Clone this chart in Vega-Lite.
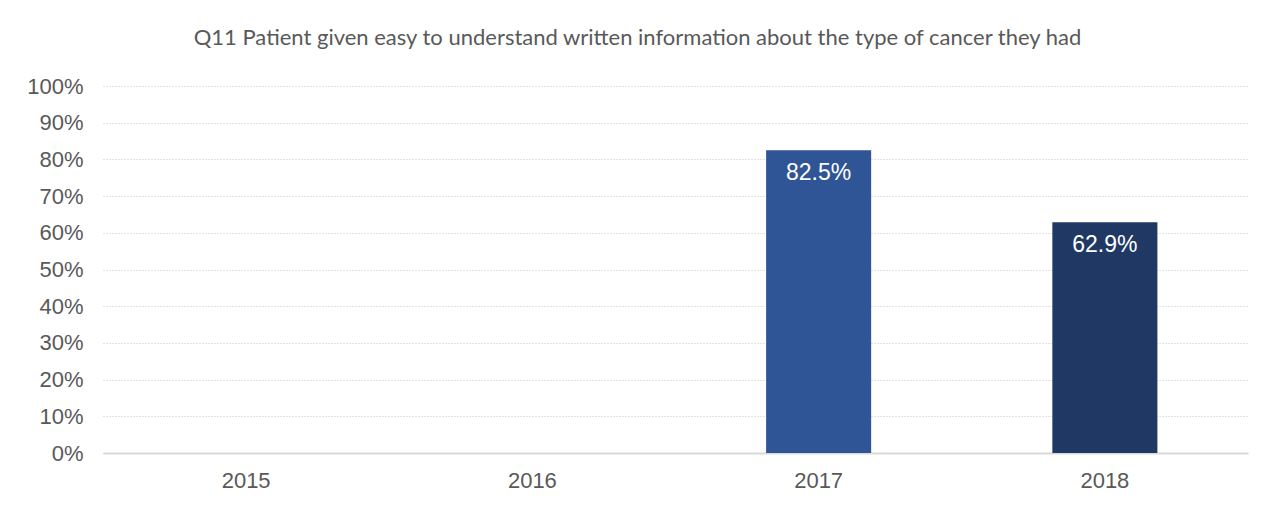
{
  "$schema": "https://vega.github.io/schema/vega-lite/v6.json",
  "autosize": {"type": "none"},
  "width": 1145,
  "height": 367,
  "padding": {"left": 103, "top": 86, "right": 26, "bottom": 55},
  "background": "white",
  "title": {
    "text": "Q11 Patient given easy to understand written information about the type of cancer they had",
    "font": "Lato",
    "fontSize": 22,
    "fontWeight": "normal",
    "color": "#595959",
    "anchor": "middle",
    "dx": -38,
    "offset": 25
  },
  "data": {
    "values": [
      {"year": "2015", "value": null},
      {"year": "2016", "value": null},
      {"year": "2017", "value": 0.825},
      {"year": "2018", "value": 0.629}
    ]
  },
  "encoding": {
    "x": {
      "field": "year", "type": "nominal",
      "scale": {"domain": ["2015", "2016", "2017", "2018"], "paddingInner": 0.633, "paddingOuter": 0.3165},
      "axis": {
        "title": null, "labelAngle": 0, "labelFont": "Liberation Sans", "labelFontSize": 22,
        "labelColor": "#595959", "ticks": false, "domainColor": "#D9D9D9", "domainWidth": 2,
        "labelPadding": 17
      }
    },
    "y": {
      "field": "value", "type": "quantitative",
      "scale": {"domain": [0, 1]},
      "axis": {
        "title": null, "format": ".0%", "values": [0,0.1,0.2,0.3,0.4,0.5,0.6,0.7,0.8,0.9,1],
        "labelOverlap": false,
        "labelFont": "Liberation Sans", "labelFontSize": 22, "labelColor": "#595959",
        "ticks": false, "domain": false, "labelPadding": 20,
        "gridColor": "#C4C4C4", "gridDash": [1, 2], "gridWidth": 1
      }
    }
  },
  "layer": [
    {
      "mark": {"type": "bar"},
      "encoding": {
        "color": {
          "field": "year", "type": "nominal",
          "scale": {"domain": ["2015", "2016", "2017", "2018"], "range": ["#2F5597", "#2F5597", "#2F5597", "#203864"]},
          "legend": null
        }
      }
    },
    {
      "mark": {"type": "text", "color": "white", "font": "Liberation Sans", "fontSize": 23, "baseline": "top", "dy": 12},
      "encoding": {
        "text": {"field": "value", "type": "quantitative", "format": ".1%"}
      }
    }
  ],
  "config": {"view": {"stroke": null}}
}
